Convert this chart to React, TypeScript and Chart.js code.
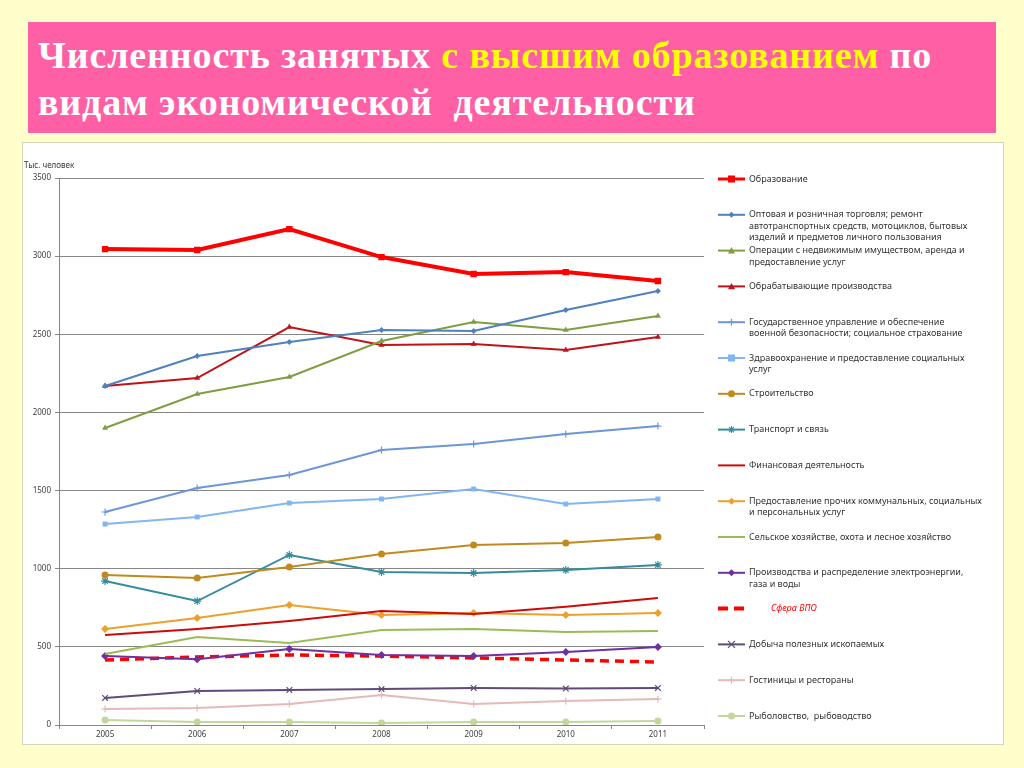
import React, { useEffect, useRef } from 'react';
import { Chart, registerables } from 'chart.js';

Chart.register(...registerables);

const years = ['2005', '2006', '2007', '2008', '2009', '2010', '2011'];
const yTicks = [0, 500, 1000, 1500, 2000, 2500, 3000, 3500];

const obrazovanie = [3045, 3039, 3173, 2994, 2886, 2898, 2841];
const torgovlya = [2169, 2361, 2450, 2527, 2521, 2655, 2777];
const nedvizhimost = [1900, 2118, 2227, 2457, 2578, 2527, 2617];
const obrabatyvayushchie = [2169, 2220, 2546, 2431, 2438, 2399, 2482];
const gosupravlenie = [1363, 1516, 1600, 1759, 1798, 1862, 1913];
const zdravookhranenie = [1286, 1331, 1420, 1446, 1510, 1414, 1446];
const stroitelstvo = [960, 940, 1011, 1094, 1152, 1164, 1203];
const transport = [921, 793, 1088, 979, 972, 992, 1024];
const finansy = [576, 614, 665, 729, 710, 757, 812];
const kommunalnye = [614, 685, 768, 704, 717, 704, 717];
const selskoe = [454, 563, 524, 608, 614, 595, 601];
const energetika = [442, 420, 486, 448, 442, 467, 499];
const sferaVPO = [416, 435, 448, 441, 429, 416, 403];
const dobycha = [173, 218, 224, 230, 237, 233, 237];
const gostinitsy = [102, 109, 134, 192, 134, 154, 166];
const rybolovstvo = [32, 19, 19, 13, 19, 19, 26];

const seriesNames = [
  'Образование',
  'Оптовая и розничная торговля; ремонт\nавтотранспортных средств, мотоциклов, бытовых\nизделий и предметов личного пользования',
  'Операции с недвижимым имуществом, аренда и\nпредоставление услуг',
  'Обрабатывающие производства',
  'Государственное управление и обеспечение\nвоенной безопасности; социальное страхование',
  'Здравоохранение и предоставление социальных\nуслуг',
  'Строительство',
  'Транспорт и связь',
  'Финансовая деятельность',
  'Предоставление прочих коммунальных, социальных\nи персональных услуг',
  'Сельское хозяйстве, охота и лесное хозяйство',
  'Производства и распределение электроэнергии,\nгаза и воды',
  'Сфера ВПО',
  'Добыча полезных ископаемых',
  'Гостиницы и рестораны',
  'Рыболовство,  рыбоводство',
];

const seriesValues = [
  obrazovanie, torgovlya, nedvizhimost, obrabatyvayushchie, gosupravlenie,
  zdravookhranenie, stroitelstvo, transport, finansy, kommunalnye, selskoe,
  energetika, sferaVPO, dobycha, gostinitsy, rybolovstvo,
];

type Style = { color: string; width: number; point: string | false; radius: number; dash?: number[] };
const seriesStyles: Style[] = [
  { color: '#FF0000', width: 4, point: 'rect', radius: 4.5 },
  { color: '#4F81BD', width: 2, point: 'rectRot', radius: 3 },
  { color: '#7F9E42', width: 2, point: 'triangle', radius: 3.5 },
  { color: '#BE1419', width: 2, point: 'triangle', radius: 3.5 },
  { color: '#6C96D6', width: 2, point: 'cross', radius: 3.5 },
  { color: '#82B6F2', width: 2, point: 'rect', radius: 3.5 },
  { color: '#C18A1F', width: 2, point: 'circle', radius: 3.5 },
  { color: '#348C9C', width: 2, point: 'star', radius: 4 },
  { color: '#CC0A0A', width: 2, point: false, radius: 0 },
  { color: '#EDA02B', width: 2, point: 'rectRot', radius: 4 },
  { color: '#9BBB59', width: 2, point: false, radius: 0 },
  { color: '#7030A0', width: 2, point: 'rectRot', radius: 4 },
  { color: '#FF0000', width: 3.5, point: false, radius: 0, dash: [9, 6] },
  { color: '#604A7B', width: 2, point: 'crossRot', radius: 4 },
  { color: '#E6B9B8', width: 2, point: 'cross', radius: 3.5 },
  { color: '#C3D69B', width: 2, point: 'circle', radius: 3.5 },
];

const FONT = '"Noto Sans", "DejaVu Sans", sans-serif';

function drawMarker(ctx: CanvasRenderingContext2D, style: string, x: number, y: number, r: number, color: string) {
  ctx.save();
  ctx.fillStyle = color;
  ctx.strokeStyle = color;
  ctx.lineWidth = 1.2;
  ctx.setLineDash([]);
  ctx.beginPath();
  if (style === 'rect') {
    ctx.fillRect(x - r, y - r, 2 * r, 2 * r);
  } else if (style === 'rectRot') {
    ctx.moveTo(x, y - r); ctx.lineTo(x + r, y); ctx.lineTo(x, y + r); ctx.lineTo(x - r, y); ctx.closePath(); ctx.fill();
  } else if (style === 'triangle') {
    ctx.moveTo(x, y - r); ctx.lineTo(x + r, y + r * 0.8); ctx.lineTo(x - r, y + r * 0.8); ctx.closePath(); ctx.fill();
  } else if (style === 'circle') {
    ctx.arc(x, y, r, 0, Math.PI * 2); ctx.fill();
  } else if (style === 'cross') {
    ctx.moveTo(x - r, y); ctx.lineTo(x + r, y); ctx.moveTo(x, y - r); ctx.lineTo(x, y + r); ctx.stroke();
  } else if (style === 'crossRot') {
    ctx.moveTo(x - r, y - r); ctx.lineTo(x + r, y + r); ctx.moveTo(x - r, y + r); ctx.lineTo(x + r, y - r); ctx.stroke();
  } else if (style === 'star') {
    ctx.moveTo(x - r, y); ctx.lineTo(x + r, y); ctx.moveTo(x, y - r); ctx.lineTo(x, y + r);
    ctx.moveTo(x - r * 0.7, y - r * 0.7); ctx.lineTo(x + r * 0.7, y + r * 0.7);
    ctx.moveTo(x - r * 0.7, y + r * 0.7); ctx.lineTo(x + r * 0.7, y - r * 0.7); ctx.stroke();
  }
  ctx.restore();
}

const legendPlugin = {
  id: 'sideLegend',
  afterDraw(chart: any) {
    const ctx: CanvasRenderingContext2D = chart.ctx;
    const x0 = 695, x1 = 722, tx = 726, y0 = 36, step = 35.8, lh = 11.5;
    ctx.save();
    ctx.font = `9px ${FONT}`;
    ctx.textBaseline = 'middle';
    seriesNames.forEach((name, i) => {
      const st = seriesStyles[i];
      const y = y0 + i * step;
      ctx.save();
      ctx.strokeStyle = st.color;
      ctx.lineWidth = st.dash ? 4 : Math.min(st.width, 3);
      if (st.dash) ctx.setLineDash([10, 6]);
      ctx.beginPath();
      ctx.moveTo(x0, y);
      ctx.lineTo(st.dash ? x0 + 26 : x1, y);
      ctx.stroke();
      ctx.restore();
      if (st.point) drawMarker(ctx, st.point, (x0 + x1) / 2, y, Math.min(st.radius, 3.5), st.color);
      const lines = name.split('\n');
      if (st.dash) {
        ctx.fillStyle = '#FF0000';
        ctx.font = `italic 9px ${FONT}`;
        ctx.fillText(name, tx + 22, y);
        ctx.font = `9px ${FONT}`;
      } else {
        ctx.fillStyle = '#333333';
        lines.forEach((ln, k) => ctx.fillText(ln, tx, y + k * lh));
      }
    });
    ctx.font = `8px ${FONT}`;
    ctx.fillStyle = '#333333';
    ctx.fillText('Тыс. человек', 1, 23);
    ctx.restore();
  },
};

export default function App() {
  const ref = useRef<HTMLCanvasElement | null>(null);

  useEffect(() => {
    if (!ref.current) return;
    const chart = new Chart(ref.current, {
      type: 'line',
      data: {
        labels: years,
        datasets: seriesValues.map((vals, i) => {
          const st = seriesStyles[i];
          return {
            label: seriesNames[i].replace(/\n/g, ' '),
            data: vals,
            borderColor: st.color,
            backgroundColor: st.color,
            borderWidth: st.width,
            borderDash: st.dash || [],
            pointStyle: (st.point || 'circle') as any,
            pointRadius: st.point ? st.radius : 0,
            pointBorderWidth: st.point === 'cross' || st.point === 'crossRot' || st.point === 'star' ? 1.2 : 0,
            pointBorderColor: st.color,
            pointBackgroundColor: st.color,
            tension: 0,
            fill: false,
            order: i === 0 ? -1 : i,
          };
        }),
      },
      options: {
        responsive: false,
        animation: false,
        layout: { padding: { top: 35, right: 299, left: 0, bottom: 0 } },
        plugins: { legend: { display: false }, tooltip: { enabled: false } },
        scales: {
          x: {
            offset: true,
            grid: { display: true, drawOnChartArea: false, offset: true, tickLength: 4, color: '#868686' },
            border: { color: '#868686' },
            ticks: { font: { size: 8, family: FONT }, color: '#404040', padding: 1, maxRotation: 0 },
            afterFit: (s: any) => { s.height = 19; },
          },
          y: {
            min: 0,
            max: 3500,
            afterBuildTicks: (s: any) => { s.ticks = yTicks.map((v) => ({ value: v })); },
            ticks: { font: { size: 8, family: FONT }, color: '#404040', padding: 4, callback: (v: any) => String(v) },
            grid: { color: '#868686', tickLength: 4 },
            border: { color: '#868686' },
            afterFit: (s: any) => { s.width = 36; },
          },
        },
      },
      plugins: [legendPlugin],
    });
    return () => chart.destroy();
  }, []);

  return (
    <div style={{ position: 'absolute', left: 0, top: 0, width: 1024, height: 768, background: '#FFFFCC', overflow: 'hidden' }}>
      <div
        style={{
          position: 'absolute', left: 28, top: 22, width: 968, height: 111, background: '#FF5FA5',
          fontFamily: '"Liberation Serif", "Times New Roman", serif', fontWeight: 'bold', fontSize: 38,
          lineHeight: '47px', letterSpacing: '0.85px', color: '#FFFFFF', boxSizing: 'border-box', paddingLeft: 10, paddingTop: 10,
        }}
      >
        <div style={{ whiteSpace: 'nowrap' }}>
          Численность занятых <span style={{ color: '#FFFF00' }}>с высшим образованием</span> по
        </div>
        <div style={{ whiteSpace: 'pre' }}>видам экономической  деятельности</div>
      </div>
      <div style={{ position: 'absolute', left: 22, top: 142, width: 980, height: 601, background: '#FFFFFF', border: '1px solid #D4D4B8' }}>
        <canvas ref={ref} width={980} height={601} style={{ display: 'block' }} />
      </div>
    </div>
  );
}
